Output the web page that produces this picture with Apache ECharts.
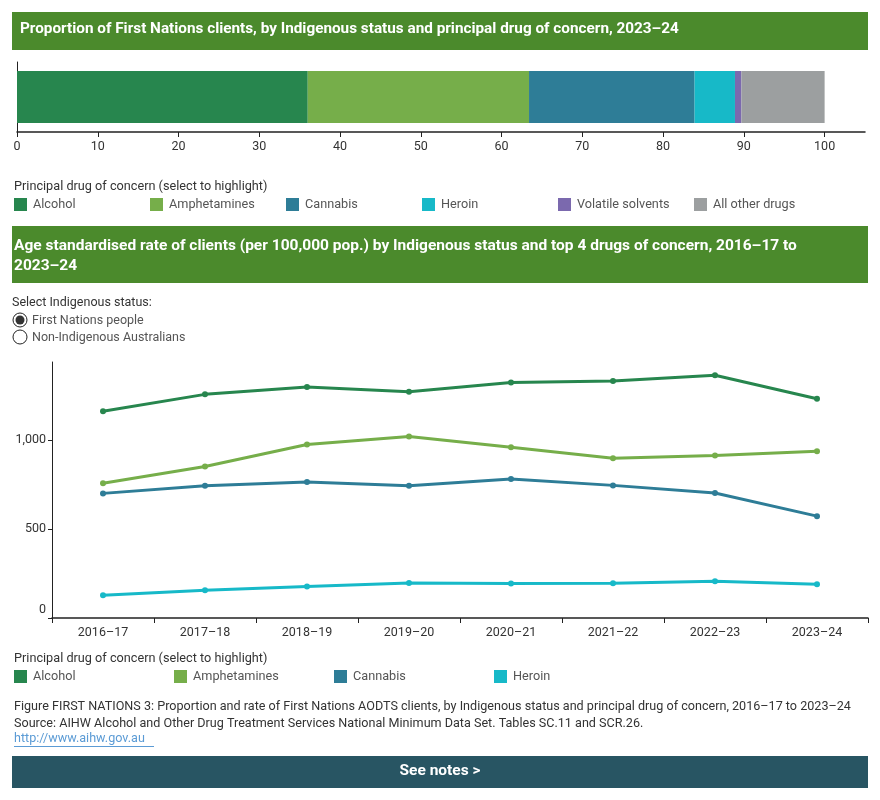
<!DOCTYPE html>
<html>
<head>
<meta charset="utf-8">
<script src="https://cdn.jsdelivr.net/npm/echarts@6/dist/echarts.min.js"></script>
<style>
  html, body { margin: 0; padding: 0; background: #fff; }
  #main { width: 880px; height: 800px; }
</style>
</head>
<body>
<div id="main"></div>
<script>
// 数据
var drugs = ['Alcohol', 'Amphetamines', 'Cannabis', 'Heroin', 'Volatile solvents', 'All other drugs'];
var drugColors = ['#27864e', '#76ae4a', '#2e7d97', '#17b9c8', '#7b69ae', '#9c9fa0'];
var shares2023 = [36.0, 27.4, 20.5, 5.0, 0.8, 10.3];
var shareTicks = [0, 10, 20, 30, 40, 50, 60, 70, 80, 90, 100];

var years = ['2016–17', '2017–18', '2018–19', '2019–20', '2020–21', '2021–22', '2022–23', '2023–24'];
var rateAlcohol = [1163, 1258, 1299, 1273, 1325, 1333, 1365, 1233];
var rateAmphetamines = [758, 852, 976, 1021, 961, 899, 914, 938];
var rateCannabis = [701, 744, 765, 744, 782, 746, 703, 573];
var rateHeroin = [128, 156, 177, 197, 194, 195, 207, 190];
var rateTicks = [0, 500, 1000];

var FONT = 'Roboto';
var textCol = '#333333';

var myChart = echarts.init(document.getElementById('main'), null, { renderer: 'canvas' });

// 图例（自己画，Tableau 式的固定列宽）
function legendBlock(y, names, colors, gap) {
    var els = [{
        type: 'text', left: 14, top: y,
        style: { text: 'Principal drug of concern (select to highlight)', font: '12.7px ' + FONT, fill: textCol }
    }];
    for (var i = 0; i < names.length; i++) {
        els.push({ type: 'rect', shape: { x: 14 + i * gap, y: y + 18, width: 13, height: 13 }, style: { fill: colors[i] } });
        els.push({ type: 'text', left: 33 + i * gap, top: y + 18, style: { text: names[i], font: '12.7px ' + FONT, fill: '#555' } });
    }
    return els;
}

var barSeries = [];
for (var i = 0; i < drugs.length; i++) {
    barSeries.push({
        name: drugs[i], type: 'bar', stack: 'share', xAxisIndex: 0, yAxisIndex: 0,
        barWidth: 52, data: [shares2023[i]],
        itemStyle: { color: drugColors[i] }
    });
}

var rates = [rateAlcohol, rateAmphetamines, rateCannabis, rateHeroin];
var lineSeries = [];
for (var j = 0; j < rates.length; j++) {
    lineSeries.push({
        name: drugs[j], type: 'line', xAxisIndex: 1, yAxisIndex: 1,
        data: rates[j], symbol: 'circle', symbolSize: 6,
        lineStyle: { width: 3, color: drugColors[j] },
        itemStyle: { color: drugColors[j] }
    });
}

var graphics = [
    // 标题条 1
    { type: 'rect', shape: { x: 12, y: 12, width: 856, height: 38 }, style: { fill: '#4b8a2c' } },
    { type: 'text', left: 20, top: 22, style: { text: 'Proportion of First Nations clients, by Indigenous status and principal drug of concern, 2023–24', font: 'bold 15.3px ' + FONT, fill: '#fff' } },
    // 标题条 2
    { type: 'rect', shape: { x: 12, y: 226, width: 856, height: 57 }, style: { fill: '#4b8a2c' } },
    { type: 'text', left: 14, top: 236, style: { text: 'Age standardised rate of clients (per 100,000 pop.) by Indigenous status and top 4 drugs of concern, 2016–17 to\n2023–24', font: 'bold 15.5px ' + FONT, fill: '#fff', lineHeight: 20 } },
    // 单选
    { type: 'text', left: 12, top: 296, style: { text: 'Select Indigenous status:', font: '12.5px ' + FONT, fill: textCol } },
    { type: 'circle', shape: { cx: 20, cy: 320, r: 7 }, style: { fill: '#fff', stroke: '#222', lineWidth: 1 } },
    { type: 'circle', shape: { cx: 20, cy: 320, r: 4.5 }, style: { fill: '#333' } },
    { type: 'text', left: 32, top: 314, style: { text: 'First Nations people', font: '12.5px ' + FONT, fill: '#555' } },
    { type: 'circle', shape: { cx: 20, cy: 337, r: 7 }, style: { fill: '#fff', stroke: '#222', lineWidth: 1 } },
    { type: 'text', left: 32, top: 331, style: { text: 'Non-Indigenous Australians', font: '12.5px ' + FONT, fill: '#555' } },
    // 脚注
    { type: 'text', left: 14, top: 698, style: { text: 'Figure FIRST NATIONS 3: Proportion and rate of First Nations AODTS clients, by Indigenous status and principal drug of concern, 2016–17 to 2023–24\nSource: AIHW Alcohol and Other Drug Treatment Services National Minimum Data Set. Tables SC.11 and SCR.26.', font: '12.6px ' + FONT, fill: textCol, lineHeight: 17 } },
    { type: 'text', left: 14, top: 732, style: { text: 'http://www.aihw.gov.au', font: '12.6px ' + FONT, fill: '#5b9bd5' } },
    { type: 'rect', shape: { x: 14, y: 746, width: 140, height: 1 }, style: { fill: '#5b9bd5' } },
    // 按钮
    { type: 'rect', shape: { x: 12, y: 756, width: 856, height: 32 }, style: { fill: '#285563' } },
    { type: 'text', left: 'center', top: 763, style: { text: 'See notes >', font: 'bold 15.5px ' + FONT, fill: '#fff' } }
];
graphics = graphics.concat(legendBlock(180, drugs, drugColors, 136));
graphics = graphics.concat(legendBlock(652, drugs.slice(0, 4), drugColors.slice(0, 4), 160));

var option = {
    animation: false,
    textStyle: { fontFamily: FONT },
    grid: [
        { left: 17, right: 15, top: 62, height: 70 },
        { left: 52, right: 12, top: 362, height: 256 }
    ],
    xAxis: [{
        gridIndex: 0, type: 'value', min: 0, max: 105,
        splitLine: { show: false },
        axisLine: { show: true, lineStyle: { color: '#222', width: 1.5 } },
        axisTick: { show: true, customValues: shareTicks, length: 5, lineStyle: { color: '#222' } },
        axisLabel: { customValues: shareTicks, color: textCol, fontSize: 12.5, margin: 8 }
    }, {
        gridIndex: 1, type: 'category', data: years, boundaryGap: true,
        axisLine: { lineStyle: { color: '#222', width: 1.5 } },
        axisTick: { show: true, length: 5, lineStyle: { color: '#222' } },
        axisLabel: { color: textCol, fontSize: 12.5, margin: 8 }
    }],
    yAxis: [{
        gridIndex: 0, type: 'category', data: [''],
        axisLine: { show: true, lineStyle: { color: '#222' } },
        axisTick: { show: false }, axisLabel: { show: false }
    }, {
        gridIndex: 1, type: 'value', min: 0, max: 1440,
        splitLine: { show: false },
        axisLine: { show: true, lineStyle: { color: '#222' } },
        axisTick: { show: true, customValues: rateTicks, length: 4, lineStyle: { color: '#222' } },
        axisLabel: {
            customValues: rateTicks, color: textCol, fontSize: 12.5, margin: 6,
            formatter: function (v) {
                // Tableau 把 0 标签往上挪了一点
                return v === 0 ? '{z|0}' : v.toLocaleString('en-US');
            },
            rich: { z: { padding: [0, 0, 16, 0], fontSize: 12.5, color: textCol } }
        }
    }],
    series: barSeries.concat(lineSeries),
    graphic: graphics
};
myChart.setOption(option);
</script>
</body>
</html>
